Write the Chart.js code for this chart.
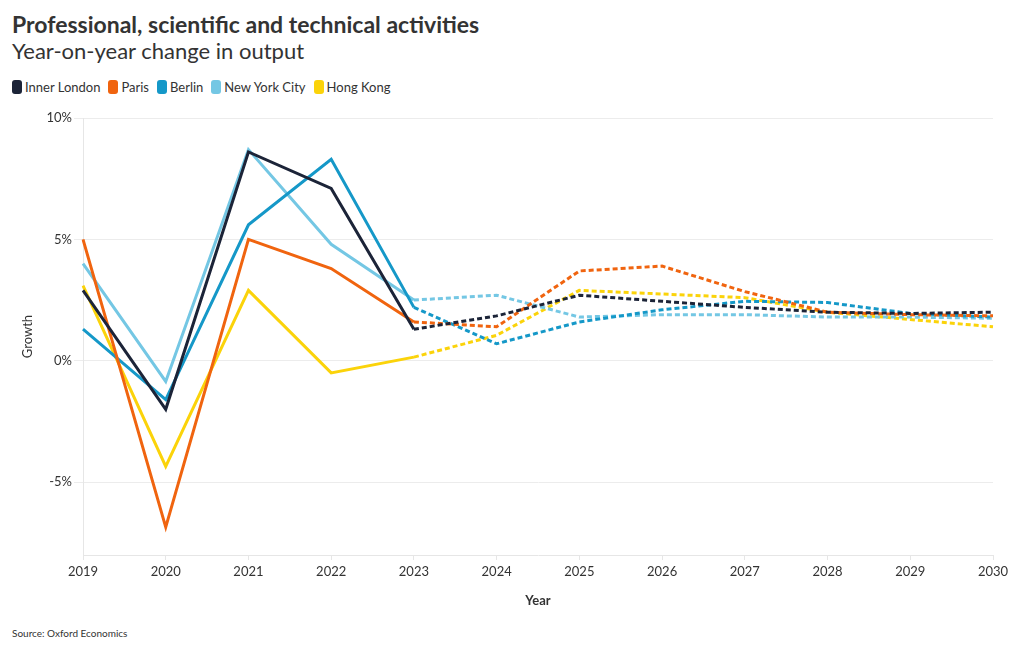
<!DOCTYPE html>
<html>
<head>
<meta charset="utf-8">
<script src="https://cdn.jsdelivr.net/npm/chart.js@4/dist/chart.umd.min.js"></script>
<style>
  html, body { margin: 0; padding: 0; background: #fff; width: 1020px; height: 650px; overflow: hidden; font-family: Lato, "Open Sans", sans-serif; color: #333; }
  #title { position: absolute; left: 12px; top: 10px; font-size: 23px; font-weight: 700; color: #333; }
  #subtitle { position: absolute; left: 12px; top: 37px; font-size: 22px; font-weight: 400; color: #333; }
  #legend { position: absolute; left: 12px; top: 79px; display: flex; font-size: 13px; color: #333; }
  .item { display: flex; align-items: center; margin-right: 8px; }
  .sw { width: 10px; height: 14px; border-radius: 3px; margin-right: 3px; }
  #wrap { position: absolute; left: 0; top: 100px; width: 1020px; height: 513px; }
  #source { position: absolute; left: 12px; top: 627px; font-size: 10px; color: #333; }
</style>
</head>
<body>
<div id="title">Professional, scientific and technical activities</div>
<div id="subtitle">Year-on-year change in output</div>
<div id="legend"></div>
<div id="wrap"><canvas id="c"></canvas></div>
<div id="source">Source: Oxford Economics</div>
<script>
const years = ["2019","2020","2021","2022","2023","2024","2025","2026","2027","2028","2029","2030"];
const seriesNames = ["Inner London", "Paris", "Berlin", "New York City", "Hong Kong"];
const innerLondon = [2.9, -2.0, 8.6, 7.1, 1.3, 1.85, 2.7, 2.45, 2.2, 2.0, 1.95, 2.0];
const paris       = [5.0, -6.85, 5.0, 3.8, 1.6, 1.4, 3.7, 3.9, 2.85, 2.0, 1.9, 1.85];
const berlin      = [1.3, -1.6, 5.6, 8.3, 2.2, 0.7, 1.6, 2.1, 2.45, 2.4, 1.95, 1.8];
const newYorkCity = [4.0, -0.85, 8.7, 4.8, 2.5, 2.7, 1.8, 1.9, 1.9, 1.8, 1.8, 1.75];
const hongKong    = [3.1, -4.35, 2.9, -0.5, 0.15, 1.05, 2.9, 2.75, 2.6, 2.0, 1.7, 1.4];
const yTicks = [-5, 0, 5, 10];
const forecastStart = 4; // index of 2023: segments after this are dashed

const colors = ["#1c2438", "#f0640f", "#1598c8", "#74c7e4", "#fbd30a"];
const values = [innerLondon, paris, berlin, newYorkCity, hongKong];

const legend = document.getElementById('legend');
seriesNames.forEach((n, i) => {
  const it = document.createElement('div'); it.className = 'item';
  const sw = document.createElement('div'); sw.className = 'sw'; sw.style.background = colors[i];
  const tx = document.createElement('span'); tx.textContent = n;
  it.appendChild(sw); it.appendChild(tx); legend.appendChild(it);
});

const datasets = seriesNames.map((n, i) => ({
  label: n,
  data: values[i],
  borderColor: colors[i],
  backgroundColor: colors[i],
  borderWidth: 3,
  pointRadius: 0,
  tension: 0,
  fill: false,
  segment: {
    borderDash: ctx => ctx.p0DataIndex >= forecastStart ? [5, 3] : undefined
  }
}));

Chart.defaults.font.family = 'Lato, "Open Sans", sans-serif';
Chart.defaults.color = '#333';

new Chart(document.getElementById('c'), {
  type: 'line',
  data: { labels: years, datasets },
  options: {
    responsive: true,
    maintainAspectRatio: false,
    animation: false,
    layout: { padding: { top: 18, right: 27, left: 0, bottom: 0 } },
    plugins: { legend: { display: false }, tooltip: { enabled: false } },
    scales: {
      x: {
        offset: false,
        grid: { drawOnChartArea: false, color: '#e6e6e6', tickLength: 5 },
        border: { color: '#e6e6e6' },
        ticks: { font: { size: 13 }, color: '#333', padding: 4, maxRotation: 0 },
        title: { display: true, text: 'Year', font: { size: 13, weight: 'bold' }, color: '#333', padding: { top: 3 } },
        afterFit: s => { s.height = 58; }
      },
      y: {
        min: -8, max: 10,
        afterBuildTicks: s => { s.ticks = yTicks.map(v => ({ value: v })); },
        grid: { color: '#ececec', tickLength: 9 },
        border: { color: '#e6e6e6' },
        ticks: { font: { size: 13 }, color: '#333', padding: 2, callback: v => v + '%' },
        title: { display: true, text: 'Growth', font: { size: 13 }, color: '#333', padding: { top: 20, bottom: 4 } },
        afterFit: s => { s.width = 83; }
      }
    }
  }
});
</script>
</body>
</html>
